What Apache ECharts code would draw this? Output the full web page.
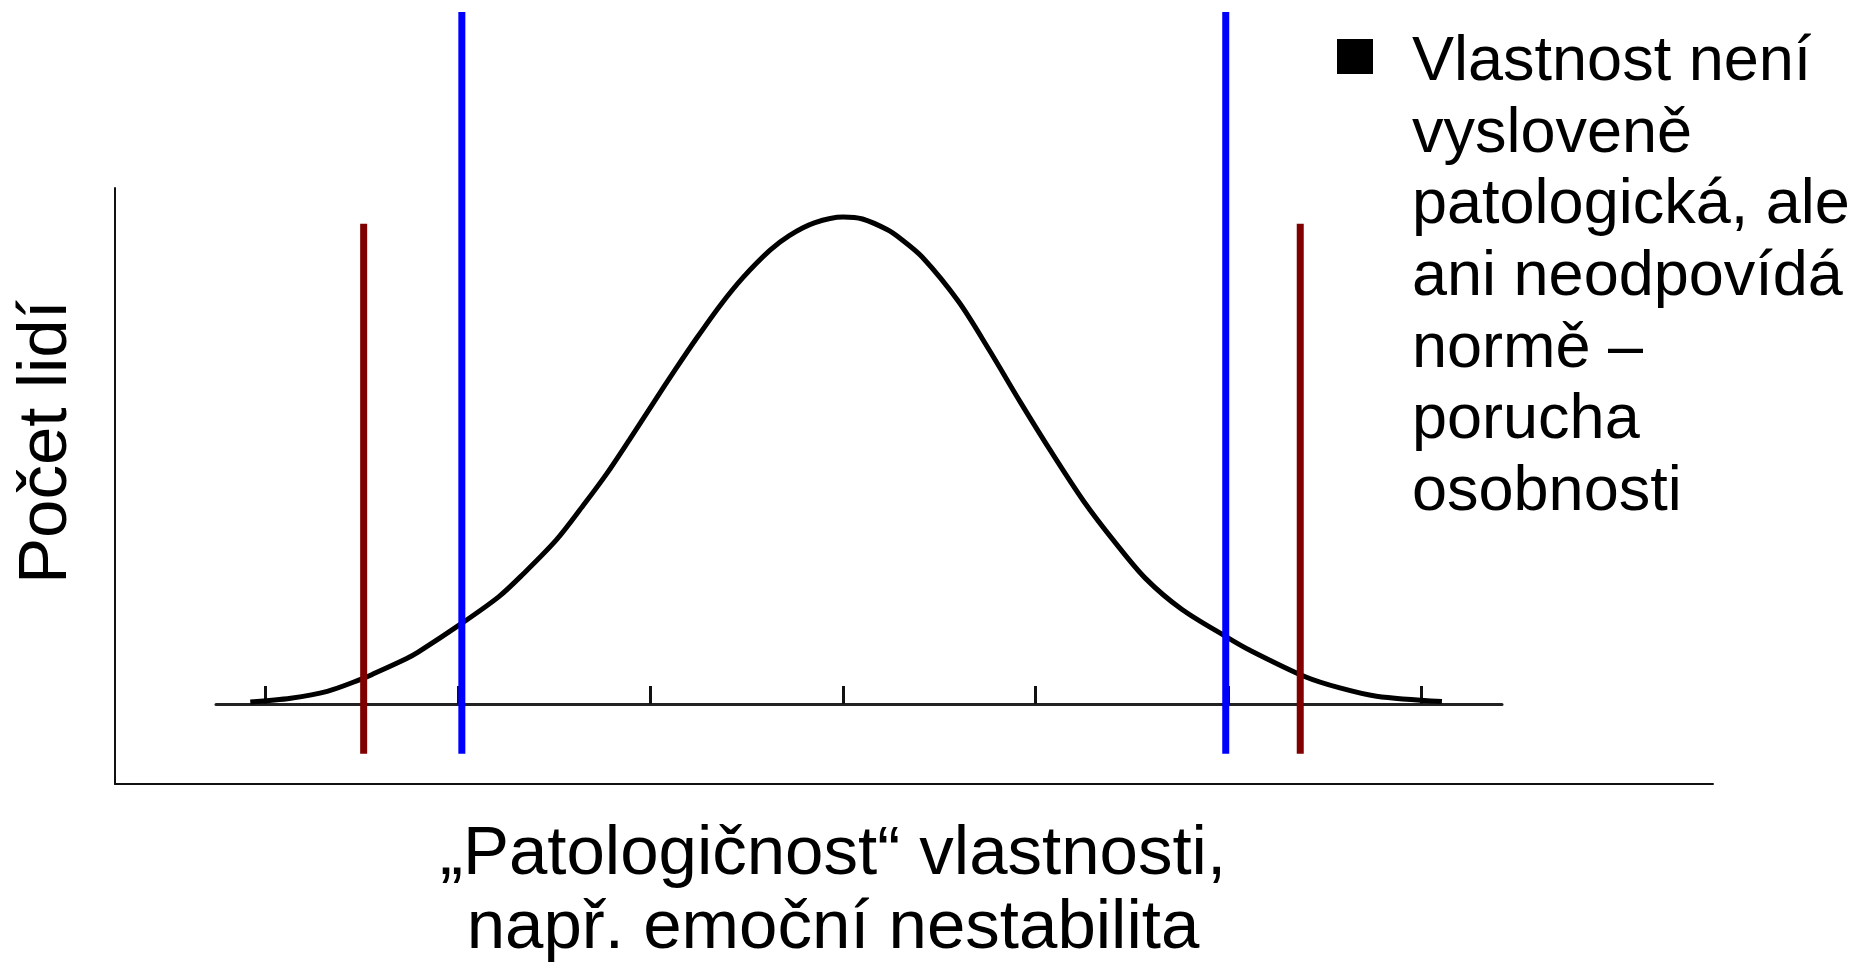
<!DOCTYPE html>
<html><head><meta charset="utf-8">
<script src="https://cdn.jsdelivr.net/npm/echarts@6/dist/echarts.min.js"></script>
<style>html,body{margin:0;padding:0;background:#fff}#c{width:1876px;height:964px}</style>
</head><body><div id="c"></div>
<script>
// Curve: x in tick units (tick 0..6), y in % of peak height
const curveX = [-0.08, 0.13, 0.32, 0.49, 0.56, 0.73, 0.79, 1.02, 1.21, 1.33, 1.51, 1.65, 1.77, 1.89, 2.01, 2.13, 2.24, 2.36, 2.48, 2.62, 2.72, 2.85, 3.0, 3.10, 3.23, 3.29, 3.41, 3.60, 3.76, 3.92, 4.09, 4.25, 4.41, 4.57, 4.76, 4.99, 5.11, 5.40, 5.58, 5.77, 6.11];
const curveY = [0.4, 1.2, 2.6, 5.0, 6.2, 9.3, 10.6, 16.6, 22.0, 26.4, 33.7, 40.8, 47.2, 54.3, 61.6, 68.8, 75.2, 81.8, 87.6, 93.2, 96.2, 98.8, 100.0, 99.6, 97.4, 95.8, 91.8, 82.6, 72.6, 62.0, 51.2, 41.6, 33.3, 25.8, 19.4, 13.8, 11.1, 5.6, 3.3, 1.6, 0.5];
const tickValues = [0, 1, 2, 3, 4, 5, 6];
const redCutoffs = [0.509, 5.374];
const blueCutoffs = [1.019, 4.987];
const redTop = 98.6;
const blueTop = 142.1;
const cutoffBottom = -10.2;
const yTitle = 'Počet lidí';
const xTitleLines = ['„Patologičnost“ vlastnosti,', 'např. emoční nestabilita'];
const legendLines = ['Vlastnost není', 'vysloveně', 'patologická, ale', 'ani neodpovídá', 'normě –', 'porucha', 'osobnosti'];

const FONT = '"Liberation Sans", Arial, sans-serif';
const chart = echarts.init(document.getElementById('c'), null, {renderer: 'canvas'});

const curveData = curveX.map((x, i) => [x, curveY[i]]);
const cutoffSeries = [];
redCutoffs.forEach(x => cutoffSeries.push({
  type: 'line', xAxisIndex: 1, yAxisIndex: 1, symbol: 'none', silent: true, z: 5,
  lineStyle: {color: '#800000', width: 7},
  data: [[x, cutoffBottom], [x, redTop]]
}));
blueCutoffs.forEach(x => cutoffSeries.push({
  type: 'line', xAxisIndex: 1, yAxisIndex: 1, symbol: 'none', silent: true, z: 5,
  lineStyle: {color: '#0000ff', width: 7},
  data: [[x, cutoffBottom], [x, blueTop]]
}));

const option = {
  animation: false,
  backgroundColor: '#ffffff',
  grid: [
    {left: 115, top: 188, width: 1598, height: 596},
    {left: 216, top: 12, width: 1286, height: 741.7}
  ],
  xAxis: [
    {gridIndex: 0, type: 'value', min: 0, max: 1,
     axisLine: {show: true, lineStyle: {color: '#111', width: 2}},
     axisTick: {show: false}, axisLabel: {show: false}, splitLine: {show: false}},
    {gridIndex: 1, type: 'value', min: -0.258, max: 6.422,
     axisLine: {show: true, onZero: true, lineStyle: {color: '#222', width: 3}},
     axisTick: {show: true, inside: true, length: 18, customValues: tickValues, lineStyle: {color: '#111', width: 3}},
     axisLabel: {show: false}, splitLine: {show: false}}
  ],
  yAxis: [
    {gridIndex: 0, type: 'value', min: 0, max: 1,
     axisLine: {show: true, lineStyle: {color: '#111', width: 2}},
     axisTick: {show: false}, axisLabel: {show: false}, splitLine: {show: false}},
    {gridIndex: 1, type: 'value', min: cutoffBottom, max: blueTop, show: false,
     splitLine: {show: false}}
  ],
  series: [
    {type: 'line', xAxisIndex: 1, yAxisIndex: 1, symbol: 'none', smooth: 0.3,
     z: 3, lineStyle: {color: '#000', width: 5}, data: curveData}
  ].concat(cutoffSeries),
  graphic: [
    {type: 'text', x: 47, y: 442, rotation: Math.PI / 2,
     style: {text: yTitle, font: '69px ' + FONT, fill: '#000', align: 'center', verticalAlign: 'middle'}},
    {type: 'text', x: 833, y: 818,
     style: {text: xTitleLines.join('\n'), font: '69px ' + FONT, lineHeight: 74, fill: '#000', align: 'center', verticalAlign: 'top'}},
    {type: 'rect', shape: {x: 1337, y: 39, width: 36, height: 35}, style: {fill: '#000'}},
    {type: 'text', x: 1412, y: 27,
     style: {text: legendLines.join('\n'), font: '63px ' + FONT, lineHeight: 71.6, fill: '#000', align: 'left', verticalAlign: 'top'}}
  ]
};
chart.setOption(option);
</script></body></html>
